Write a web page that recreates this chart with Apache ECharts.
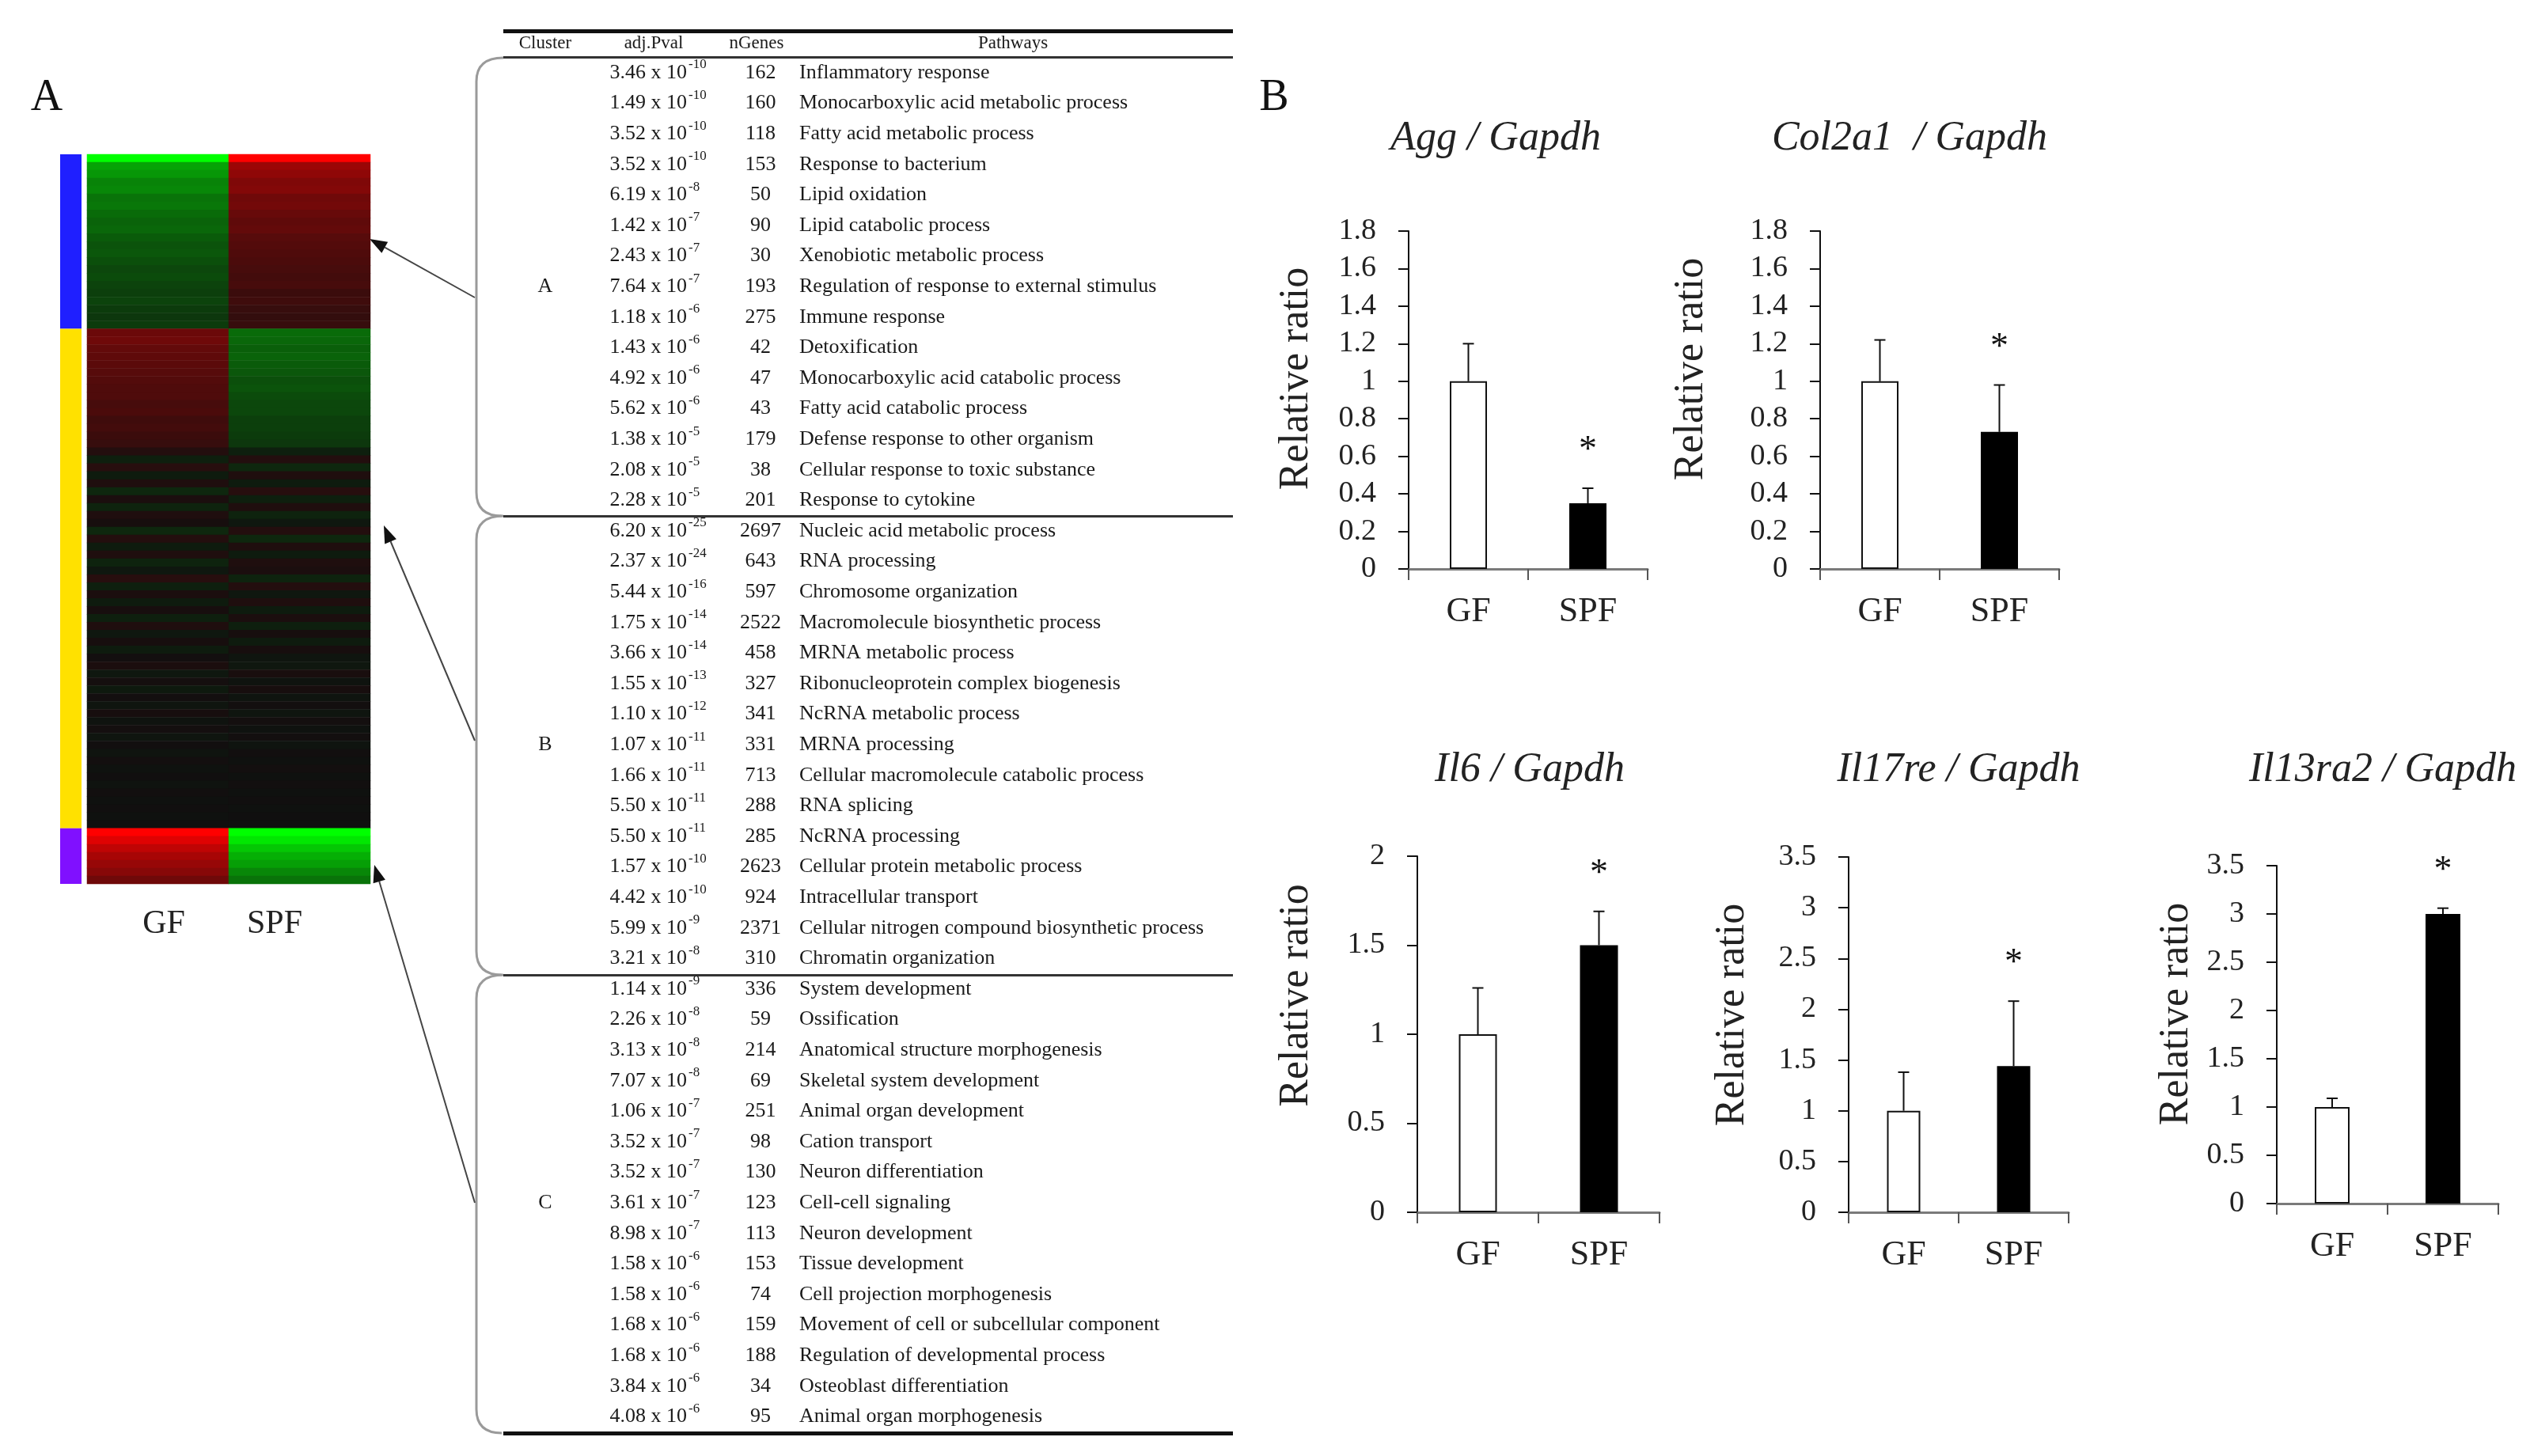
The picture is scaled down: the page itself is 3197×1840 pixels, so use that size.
<!DOCTYPE html>
<html>
<head>
<meta charset="utf-8">
<title>GF vs SPF</title>
<script src="https://cdn.jsdelivr.net/npm/echarts@6/dist/echarts.min.js"></script>
<style>
  html, body { margin: 0; padding: 0; background: #fff; }
  #main { width: 3197px; height: 1840px; }
</style>
</head>
<body>
<div id="main"></div>
<script>
var SERIF = '"Liberation Serif", "Times New Roman", serif';

/* ---- A: heatmap rows (log ratio, green < 0 < red), top to bottom ---- */
var heatGF_A = [-3.0, -1.85, -1.7, -1.45, -1.5, -1.25, -1.3, -1.15, -1.05, -1.1, -0.95,
  -0.85, -0.9, -0.8, -0.7, -0.75, -0.65, -0.6, -0.65, -0.55, -0.5, -0.55];
var heatSPF_A = [3.0, 1.75, 1.6, 1.4, 1.45, 1.2, 1.25, 1.1, 1.0, 1.05, 0.9,
  0.85, 0.8, 0.75, 0.7, 0.65, 0.7, 0.55, 0.6, 0.5, 0.45, 0.5];
var heatGF_B = [1.15, 1.2, 1.05, 1.0, 0.95, 0.9, 0.85, 0.8, 0.8, 0.7, 0.75, 0.6, 0.65, 0.55, 0.5,
  0.25, -0.2, 0.3, -0.15, 0.2, -0.3, 0.15, -0.25, 0.2, 0.1,
  -0.3, 0.25, -0.15, 0.2, -0.25, -0.1, 0.3, -0.2, 0.15, -0.15,
  0.1, -0.2, 0.2, -0.1, 0.1, -0.15, 0.05, 0.15, -0.1, 0.08,
  -0.12, 0.05, -0.08, 0.1, -0.05, 0.06, -0.08, 0.04, -0.06, 0.05,
  -0.04, 0.03, -0.05, 0.04, -0.03, 0.02, -0.02, 0.01];
var heatSPF_B = [-1.15, -1.1, -1.0, -1.05, -0.95, -0.9, -0.8, -0.85, -0.75, -0.7, -0.7, -0.6, -0.6, -0.55, -0.5,
  -0.2, 0.25, -0.3, 0.2, -0.15, 0.3, -0.2, 0.2, -0.25, -0.1,
  0.25, -0.3, 0.2, -0.15, 0.2, 0.15, -0.25, 0.25, -0.1, 0.2,
  -0.15, 0.15, -0.2, 0.1, -0.15, 0.1, -0.08, -0.1, 0.12, -0.05,
  0.1, -0.06, 0.05, -0.08, 0.06, -0.04, 0.05, -0.06, 0.04, -0.03,
  0.05, -0.02, 0.04, -0.03, 0.02, -0.03, 0.01, -0.01];
var heatGF_C = [3.0, 2.6, 2.2, 1.9, 1.7, 1.5, 1.2];
var heatSPF_C = [-3.0, -2.7, -2.3, -2.0, -1.8, -1.5, -1.25];
var samples = ['GF', 'SPF'];

/* ---- pathway table ---- */
var pvalA = [3.46e-10, 1.49e-10, 3.52e-10, 3.52e-10, 6.19e-8, 1.42e-7, 2.43e-7, 7.64e-7, 1.18e-6, 1.43e-6, 4.92e-6, 5.62e-6, 1.38e-5, 2.08e-5, 2.28e-5];
var genesA = [162, 160, 118, 153, 50, 90, 30, 193, 275, 42, 47, 43, 179, 38, 201];
var pathA = ['Inflammatory response', 'Monocarboxylic acid metabolic process', 'Fatty acid metabolic process',
  'Response to bacterium', 'Lipid oxidation', 'Lipid catabolic process', 'Xenobiotic metabolic process',
  'Regulation of response to external stimulus', 'Immune response', 'Detoxification',
  'Monocarboxylic acid catabolic process', 'Fatty acid catabolic process', 'Defense response to other organism',
  'Cellular response to toxic substance', 'Response to cytokine'];
var pvalB = [6.20e-25, 2.37e-24, 5.44e-16, 1.75e-14, 3.66e-14, 1.55e-13, 1.10e-12, 1.07e-11, 1.66e-11, 5.50e-11, 5.50e-11, 1.57e-10, 4.42e-10, 5.99e-9, 3.21e-8];
var genesB = [2697, 643, 597, 2522, 458, 327, 341, 331, 713, 288, 285, 2623, 924, 2371, 310];
var pathB = ['Nucleic acid metabolic process', 'RNA processing', 'Chromosome organization',
  'Macromolecule biosynthetic process', 'MRNA metabolic process', 'Ribonucleoprotein complex biogenesis',
  'NcRNA metabolic process', 'MRNA processing', 'Cellular macromolecule catabolic process', 'RNA splicing',
  'NcRNA processing', 'Cellular protein metabolic process', 'Intracellular transport',
  'Cellular nitrogen compound biosynthetic process', 'Chromatin organization'];
var pvalC = [1.14e-9, 2.26e-8, 3.13e-8, 7.07e-8, 1.06e-7, 3.52e-7, 3.52e-7, 3.61e-7, 8.98e-7, 1.58e-6, 1.58e-6, 1.68e-6, 1.68e-6, 3.84e-6, 4.08e-6];
var genesC = [336, 59, 214, 69, 251, 98, 130, 123, 113, 153, 74, 159, 188, 34, 95];
var pathC = ['System development', 'Ossification', 'Anatomical structure morphogenesis',
  'Skeletal system development', 'Animal organ development', 'Cation transport', 'Neuron differentiation',
  'Cell-cell signaling', 'Neuron development', 'Tissue development', 'Cell projection morphogenesis',
  'Movement of cell or subcellular component', 'Regulation of developmental process',
  'Osteoblast differentiation', 'Animal organ morphogenesis'];

/* ---- B: qPCR relative ratios (mean, SD) ---- */
var groups = ['GF', 'SPF'];
var aggMean = [1.0, 0.35], aggErr = [0.20, 0.08];
var col2a1Mean = [1.0, 0.73], col2a1Err = [0.22, 0.25];
var il6Mean = [1.0, 1.5], il6Err = [0.26, 0.19];
var il17reMean = [1.0, 1.44], il17reErr = [0.38, 0.64];
var il13ra2Mean = [1.0, 3.0], il13ra2Err = [0.09, 0.06];
var signif = [0, 1];

var myChart = echarts.init(document.getElementById('main'));

var clusterColor = ['#1f1fff', '#ffe100', '#8010ff'];
var heatGF = heatGF_A.concat(heatGF_B, heatGF_C);
var heatSPF = heatSPF_A.concat(heatSPF_B, heatSPF_C);
var nRows = heatGF.length;
var rowNames = [];
var heatData = [];
for (var r = 0; r < nRows; r++) {
  rowNames.push('g' + r);
  heatData.push([0, r, heatGF[r]]);
  heatData.push([1, r, heatSPF[r]]);
}
var clusterRows = [heatGF_A.length, heatGF_B.length, heatGF_C.length];

var grids = [
  { left: 110, top: 195, width: 358, height: 922 },
  { left: 76, top: 195, width: 27, height: 922 }
];
var xAxes = [
  { gridIndex: 0, type: 'category', data: samples,
    axisLine: { show: false }, axisTick: { show: false },
    axisLabel: { margin: 30, color: '#222', fontFamily: SERIF, fontSize: 42,
      formatter: function (v) { return v === 'GF' ? '{g|GF}' : '{s|SPF}'; },
      rich: { g: { padding: [0, 0, 0, 15], fontFamily: SERIF, fontSize: 42, color: '#222' },
              s: { padding: [0, 63, 0, 0], fontFamily: SERIF, fontSize: 42, color: '#222' } } } },
  { gridIndex: 1, type: 'category', data: ['cluster'], show: false }
];
var yAxes = [
  { gridIndex: 0, type: 'category', data: rowNames, inverse: true, show: false },
  { gridIndex: 1, type: 'value', min: 0, max: nRows, inverse: true, show: false }
];
var series = [];
['A', 'B', 'C'].forEach(function (c, i) {
  series.push({ name: 'cluster ' + c, type: 'bar', xAxisIndex: 1, yAxisIndex: 1, stack: 'cl',
    barWidth: '100%', silent: true, data: [clusterRows[i]], itemStyle: { color: clusterColor[i] } });
});
series.push({ name: 'heat', type: 'heatmap', xAxisIndex: 0, yAxisIndex: 0, data: heatData,
  silent: true, itemStyle: { borderWidth: 0 } });

/* ---- bar charts ---- */
var charts = [
  { title: 'Agg / Gapdh', mean: aggMean, err: aggErr, max: 1.8, step: 0.2,
    box: [1780, 292, 302, 427], tx: 1890, ty: 179, barW: 47, gap: 116, shift: 54 },
  { title: 'Col2a1  / Gapdh', mean: col2a1Mean, err: col2a1Err, max: 1.8, step: 0.2,
    box: [2300, 292, 302, 427], tx: 2413, ty: 179, barW: 47, gap: 137, shift: 78 },
  { title: 'Il6 / Gapdh', mean: il6Mean, err: il6Err, max: 2, step: 0.5,
    box: [1791, 1082, 306, 450], tx: 1933, ty: 977, barW: 48, gap: 127, shift: 98 },
  { title: 'Il17re / Gapdh', mean: il17reMean, err: il17reErr, max: 3.5, step: 0.5,
    box: [2336, 1083, 278, 449], tx: 2475, ty: 977, barW: 42, gap: 121, shift: 50 },
  { title: 'Il13ra2 / Gapdh', mean: il13ra2Mean, err: il13ra2Err, max: 3.5, step: 0.5,
    box: [2877, 1094, 280, 427], tx: 3011, ty: 977, barW: 44, gap: 101, shift: 52 }
];

function renderErr(params, api) {
  var i = api.value(0);
  var base = api.coord([i, api.value(1)]);
  var top = api.coord([i, api.value(2)]);
  var kids = [
    { type: 'line', shape: { x1: base[0], y1: base[1], x2: top[0], y2: top[1] },
      style: { stroke: '#111', lineWidth: 2 } },
    { type: 'line', shape: { x1: top[0] - 7, y1: top[1], x2: top[0] + 7, y2: top[1] },
      style: { stroke: '#111', lineWidth: 2 } }
  ];
  if (api.value(3)) {
    kids.push({ type: 'text', x: top[0], y: top[1] - 47,
      style: { text: '*', fontFamily: SERIF, fontSize: 46, fill: '#111', align: 'center', verticalAlign: 'middle' } });
  }
  return { type: 'group', children: kids };
}

var titles = [];
charts.forEach(function (c, k) {
  var g = grids.length;
  grids.push({ left: c.box[0], top: c.box[1], width: c.box[2], height: c.box[3] });
  xAxes.push({ gridIndex: g, type: 'category', data: groups,
    axisLine: { show: true, lineStyle: { color: '#7a7a7a', width: 3 } },
    axisTick: { show: true, length: 14, lineStyle: { color: '#555', width: 2 } },
    axisLabel: { margin: 32, fontFamily: SERIF, fontSize: 44, color: '#222' } });
  yAxes.push({ gridIndex: g, type: 'value', min: 0, max: c.max, interval: c.step,
    name: 'Relative ratio', nameLocation: 'middle', nameGap: c.gap, nameRotate: 90,
    nameTextStyle: { fontFamily: SERIF, fontSize: 52, color: '#222', padding: [0, 0, 0, c.shift] },
    axisLine: { show: true, lineStyle: { color: '#111', width: 2 } },
    axisTick: { show: true, length: 13, lineStyle: { color: '#111', width: 2 } },
    axisLabel: { margin: 41, fontFamily: SERIF, fontSize: 38, color: '#222' },
    splitLine: { show: false } });
  series.push({ type: 'bar', xAxisIndex: g, yAxisIndex: g, barWidth: c.barW, silent: true,
    data: c.mean.map(function (v, i) {
      return { value: v, itemStyle: i === 0
        ? { color: '#ffffff', borderColor: '#111', borderWidth: 2 }
        : { color: '#000000' } };
    }) });
  series.push({ type: 'custom', xAxisIndex: g, yAxisIndex: g, silent: true, z: 5,
    renderItem: renderErr,
    data: c.mean.map(function (v, i) { return [i, v, v + c.err[i], signif[i]]; }) });
  titles.push({ text: c.title, left: c.tx, top: c.ty - 30, textAlign: 'center', padding: 0,
    textStyle: { fontFamily: SERIF, fontStyle: 'italic', fontWeight: 'normal', fontSize: 52, color: '#222' } });
});

/* ---- table, brackets, arrows, panel letters ---- */
var graphics = [];
function addText(x, y, s, size, align, color) {
  graphics.push({ type: 'text', x: x, y: y, silent: true,
    style: { text: s, fontFamily: SERIF, fontSize: size, fill: color || '#1a1a1a',
      align: align, verticalAlign: 'middle' } });
}
function addRect(x, y, w, h, fill) {
  graphics.push({ type: 'rect', silent: true, shape: { x: x, y: y, width: w, height: h }, style: { fill: fill } });
}

addText(59, 124, 'A', 56, 'center', '#111');
addText(1610, 124, 'B', 56, 'center', '#111');

var tableL = 636, tableW = 922;
addRect(tableL, 37, tableW, 5, '#111');
addRect(tableL, 71, tableW, 3, '#333');
addRect(tableL, 651, tableW, 3, '#333');
addRect(tableL, 1231, tableW, 3, '#333');
addRect(tableL, 1809, tableW, 5, '#111');
addText(689, 55, 'Cluster', 23, 'center');
addText(826, 55, 'adj.Pval', 23, 'center');
addText(956, 55, 'nGenes', 23, 'center');
addText(1280, 55, 'Pathways', 23, 'center');

var blocks = [
  { name: 'A', p: pvalA, n: genesA, path: pathA },
  { name: 'B', p: pvalB, n: genesB, path: pathB },
  { name: 'C', p: pvalC, n: genesC, path: pathC }
];
var rowY0 = 92, rowStep = 38.6, k = 0;
blocks.forEach(function (b) {
  b.p.forEach(function (pv, i) {
    var y = rowY0 + (k + i) * rowStep;
    var parts = pv.toExponential(2).split('e');
    addText(868, y, parts[0] + ' x 10', 26, 'right');
    addText(870, y - 10, parts[1], 17, 'left');
    addText(961, y, String(b.n[i]), 26, 'center');
    addText(1010, y, b.path[i], 26, 'left');
  });
  addText(689, rowY0 + (k + 7) * rowStep, b.name, 26, 'center');
  k += b.p.length;
});

[[73, 652], [652, 1232], [1232, 1811]].forEach(function (yy) {
  var st = { stroke: '#9a9a9a', lineWidth: 3, fill: null };
  graphics.push({ type: 'bezierCurve', silent: true,
    shape: { x1: 636, y1: yy[0], cpx1: 602, cpy1: yy[0], x2: 602, y2: yy[0] + 30 }, style: st });
  graphics.push({ type: 'line', silent: true,
    shape: { x1: 602, y1: yy[0] + 30, x2: 602, y2: yy[1] - 30 }, style: st });
  graphics.push({ type: 'bezierCurve', silent: true,
    shape: { x1: 602, y1: yy[1] - 30, cpx1: 602, cpy1: yy[1], x2: 634, y2: yy[1] }, style: st });
});

[[600, 376, 467, 302], [600, 936, 485, 664], [600, 1520, 473, 1093]].forEach(function (a) {
  var dx = a[2] - a[0], dy = a[3] - a[1], len = Math.sqrt(dx * dx + dy * dy);
  var ux = dx / len, uy = dy / len, bx = a[2] - ux * 22, by = a[3] - uy * 22;
  graphics.push({ type: 'line', silent: true, shape: { x1: a[0], y1: a[1], x2: bx, y2: by },
    style: { stroke: '#444', lineWidth: 2 } });
  graphics.push({ type: 'polygon', silent: true,
    shape: { points: [[a[2], a[3]], [bx - uy * 8, by + ux * 8], [bx + uy * 8, by - ux * 8]] },
    style: { fill: '#111' } });
});

grids.forEach(function (g) { g.containLabel = false; g.outerBoundsMode = 'none'; });

var option = {
  backgroundColor: '#ffffff',
  animation: false,
  title: titles,
  grid: grids,
  xAxis: xAxes,
  yAxis: yAxes,
  visualMap: { type: 'continuous', show: false, min: -3, max: 3, seriesIndex: 3,
    inRange: { color: ['#00ff00', '#0f0f0f', '#ff0000'] } },
  graphic: { elements: graphics },
  series: series
};
myChart.setOption(option);
</script>
</body>
</html>
